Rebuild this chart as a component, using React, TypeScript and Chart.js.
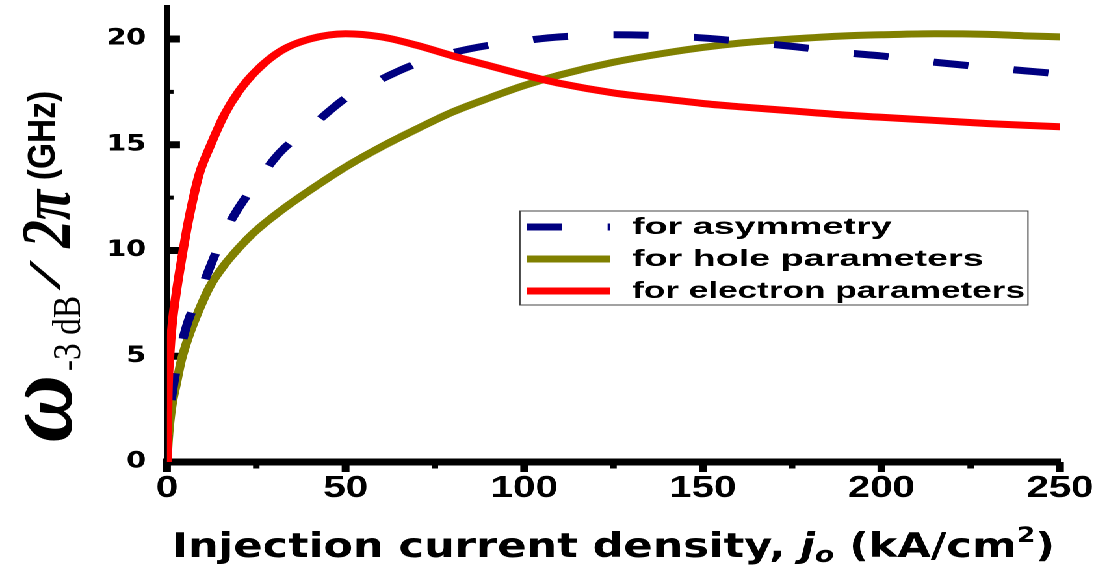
import React, { useEffect, useRef } from "react";
import { Chart, registerables } from "chart.js";

Chart.register(...registerables);

// The figure is drawn on a narrower canvas and widened horizontally with CSS.
const CANVAS_W = 843;
const CANVAS_H = 569;
const STRETCH = 1096 / CANVAS_W;

// Plot box in canvas units
const PLOT_LEFT = 167 / STRETCH;
const PLOT_RIGHT = 1060 / STRETCH;
const PLOT_BOTTOM = 462;
const Y_MAX = 21.5;
const PLOT_TOP = PLOT_BOTTOM - Y_MAX * 21.15;

// Injection current density j0 (kA/cm^2)
const currentDensity = [
  0, 0.3, 0.8, 1.5, 2.5, 4, 6, 9, 12, 16, 20, 25, 32, 40, 50, 60, 70, 80, 90,
  100, 110, 125, 140, 150, 160, 175, 190, 200, 215, 230, 240, 250,
];

// -3 dB modulation bandwidth (GHz)
const asymmetryBw = [
  0, 1.5, 2.4, 3.3, 4.3, 5.5, 6.7, 7.9, 9.2, 10.8, 12.0, 13.2, 14.7, 15.8,
  17.2, 18.1, 18.85, 19.35, 19.7, 19.92, 20.1, 20.2, 20.15, 20.05, 19.9, 19.65,
  19.35, 19.2, 18.9, 18.65, 18.5, 18.35,
];
const holeBw = [
  0, 0.9, 1.9, 2.8, 3.6, 4.8, 5.9, 7.2, 8.3, 9.3, 10.1, 10.95, 11.9, 12.85,
  13.95, 14.9, 15.75, 16.55, 17.2, 17.8, 18.3, 18.9, 19.35, 19.6, 19.8, 20.0,
  20.15, 20.2, 20.25, 20.22, 20.15, 20.1,
];
const electronBw = [
  0, 3.3, 5.1, 6.6, 7.9, 9.5, 11.4, 13.6, 14.9, 16.4, 17.5, 18.5, 19.45, 20.0,
  20.25, 20.1, 19.7, 19.2, 18.75, 18.3, 17.9, 17.45, 17.15, 16.95, 16.8, 16.6,
  16.4, 16.3, 16.15, 16.0, 15.92, 15.85,
];

const xTickValues = [0, 50, 100, 150, 200, 250];
const xMinorValues = [25, 75, 125, 175, 225];
const yTickValues = [0, 5, 10, 15, 20];
const yMinorValues = [2.5, 7.5, 12.5, 17.5];

const legendLabels = [
  "for asymmetry",
  "for hole parameters",
  "for electron parameters",
];

const NAVY = "#000080";
const OLIVE = "#808000";
const RED = "#ff0000";
const DASH = [27, 35];

const seriesColors = [NAVY, OLIVE, RED];

function toPoints(ys: number[]) {
  return currentDensity.map((x, i) => ({ x, y: ys[i] }));
}

// Inward ticks on the y axis, outward ticks on the x axis, plus minor ticks
const axisTicksPlugin = {
  id: "axisTicks",
  beforeDatasetsDraw(chart: any) {
    const { ctx, chartArea, scales } = chart;
    const x = scales.x;
    const y = scales.y;
    ctx.save();
    ctx.strokeStyle = "#000";
    ctx.lineCap = "butt";
    const seg = (x1: number, y1: number, x2: number, y2: number) => {
      ctx.beginPath();
      ctx.moveTo(x1, y1);
      ctx.lineTo(x2, y2);
      ctx.stroke();
    };
    ctx.lineWidth = 7;
    yTickValues.forEach((v) => {
      const py = y.getPixelForValue(v);
      seg(chartArea.left, py, chartArea.left + 10, py);
    });
    ctx.lineWidth = 4;
    yMinorValues.forEach((v) => {
      const py = y.getPixelForValue(v);
      seg(chartArea.left, py, chartArea.left + 5, py);
    });
    ctx.lineWidth = 6;
    xTickValues.forEach((v) => {
      const px = x.getPixelForValue(v);
      seg(px, chartArea.bottom, px, chartArea.bottom + 10);
    });
    ctx.lineWidth = 5;
    xMinorValues.forEach((v) => {
      const px = x.getPixelForValue(v);
      seg(px, chartArea.bottom, px, chartArea.bottom + 6.5);
    });
    ctx.restore();
  },
};

type Piece = { text: string; font: string; dy?: number };

function drawPieces(ctx: CanvasRenderingContext2D, pieces: Piece[]) {
  let cx = 0;
  pieces.forEach((p) => {
    ctx.font = p.font;
    ctx.fillText(p.text, cx, p.dy || 0);
    cx += ctx.measureText(p.text).width;
  });
}

function piecesWidth(ctx: CanvasRenderingContext2D, pieces: Piece[]) {
  let w = 0;
  pieces.forEach((p) => {
    ctx.font = p.font;
    w += ctx.measureText(p.text).width;
  });
  return w;
}

// One glyph run of the vertical title: its ink spans page rows top..bottom
// (reading upwards) and page columns left..right.
type TitleRun = {
  text: string;
  font: string;
  top: number;
  bottom: number;
  left: number;
  right: number;
};

const yTitleRuns: TitleRun[] = [
  { text: "\u03c9", font: "italic bold 60px 'Liberation Serif', 'DejaVu Serif', serif", top: 377, bottom: 441, left: 25, right: 73 },
  { text: "-3 dB", font: "30px 'Liberation Serif', 'DejaVu Serif', serif", top: 297, bottom: 370, left: 53, right: 80 },
  { text: "/", font: "44px 'Liberation Serif', 'DejaVu Serif', serif", top: 258, bottom: 291, left: 30, right: 60 },
  { text: "2\u03c0", font: "italic bold 52px 'Liberation Serif', 'DejaVu Serif', serif", top: 188, bottom: 249, left: 22, right: 71 },
  { text: "(GHz)", font: "bold 30px 'Liberation Sans', Arial, sans-serif", top: 92, bottom: 179, left: 26, right: 62 },
];

// Axis titles and the boxed legend
const annotationsPlugin = {
  id: "annotations",
  afterDraw(chart: any) {
    const ctx: CanvasRenderingContext2D = chart.ctx;
    ctx.save();
    ctx.fillStyle = "#000";
    ctx.textAlign = "left";
    ctx.textBaseline = "alphabetic";

    // x-axis title
    const xf = "'DejaVu Sans', sans-serif";
    const xTitle: Piece[] = [
      { text: "Injection current density, ", font: `bold 34px ${xf}` },
      { text: "j", font: `italic bold 34px ${xf}` },
      { text: "o", font: `italic bold 22px ${xf}`, dy: 5 },
      { text: " (kA/cm", font: `bold 34px ${xf}` },
      { text: "2", font: `bold 21px ${xf}`, dy: -15 },
      { text: ")", font: `bold 34px ${xf}` },
    ];
    const targetW = (1055 - 172) / STRETCH;
    const natW = piecesWidth(ctx, xTitle);
    ctx.save();
    ctx.translate(172 / STRETCH, 557);
    ctx.scale(targetW / natW, 1);
    drawPieces(ctx, xTitle);
    ctx.restore();

    // y-axis title, reading upwards; each run is fitted to its ink box
    yTitleRuns.forEach((run) => {
      ctx.save();
      ctx.rotate(-Math.PI / 2);
      ctx.font = run.font;
      const m = ctx.measureText(run.text);
      const inkW = m.actualBoundingBoxLeft + m.actualBoundingBoxRight;
      const inkH = m.actualBoundingBoxAscent + m.actualBoundingBoxDescent;
      const sx = (run.bottom - run.top) / inkW;
      const sy = (run.right - run.left) / STRETCH / inkH;
      ctx.translate(
        -run.bottom + m.actualBoundingBoxLeft * sx,
        run.left / STRETCH + m.actualBoundingBoxAscent * sy
      );
      ctx.scale(sx, sy);
      ctx.fillText(run.text, 0, 0);
      ctx.restore();
    });

    // legend
    const boxL = 520 / STRETCH;
    const boxR = 1028 / STRETCH;
    const boxT = 211;
    const boxB = 305;
    ctx.strokeStyle = "#444";
    ctx.lineWidth = 1;
    ctx.setLineDash([]);
    ctx.strokeRect(boxL, boxT, boxR - boxL, boxB - boxT);

    const rowY = [227, 259, 291];
    const sampleL = 527 / STRETCH;
    const sampleR = 610 / STRETCH;
    const textX = 632 / STRETCH;
    const textScale = 1.26;
    const maxTextW = (1025 - 632) / STRETCH;
    legendLabels.forEach((label, i) => {
      ctx.save();
      ctx.strokeStyle = seriesColors[i];
      ctx.lineWidth = 7;
      ctx.lineCap = "butt";
      ctx.setLineDash(i === 0 ? DASH : []);
      ctx.beginPath();
      ctx.moveTo(sampleL, rowY[i]);
      ctx.lineTo(sampleR, rowY[i]);
      ctx.stroke();
      ctx.restore();

      ctx.save();
      ctx.translate(textX, rowY[i] + 7);
      ctx.scale(textScale, 1);
      ctx.font = "bold 23px 'Liberation Sans', Arial, sans-serif";
      ctx.fillText(label, 0, 0, maxTextW / textScale);
      ctx.restore();
    });

    ctx.restore();
  },
};

export default function App() {
  const canvasRef = useRef<HTMLCanvasElement>(null);

  useEffect(() => {
    document.body.style.margin = "0";
    const canvas = canvasRef.current;
    if (!canvas) return;

    const chart = new Chart(canvas, {
      type: "line",
      data: {
        datasets: [
          {
            label: legendLabels[0],
            data: toPoints(asymmetryBw),
            borderColor: NAVY,
            backgroundColor: NAVY,
            borderWidth: 7,
            borderDash: DASH,
            order: 1,
          },
          {
            label: legendLabels[1],
            data: toPoints(holeBw),
            borderColor: OLIVE,
            backgroundColor: OLIVE,
            borderWidth: 7,
            order: 2,
          },
          {
            label: legendLabels[2],
            data: toPoints(electronBw),
            borderColor: RED,
            backgroundColor: RED,
            borderWidth: 7,
            order: 0,
          },
        ],
      },
      options: {
        animation: false,
        responsive: true,
        maintainAspectRatio: false,
        devicePixelRatio: 2,
        layout: {
          padding: {
            top: PLOT_TOP,
            right: CANVAS_W - PLOT_RIGHT,
            left: 0,
            bottom: 0,
          },
        },
        elements: {
          point: { radius: 0, hoverRadius: 0 },
          line: {
            cubicInterpolationMode: "monotone",
            borderCapStyle: "butt",
            fill: false,
          },
        },
        plugins: {
          legend: { display: false },
          tooltip: { enabled: false },
        },
        scales: {
          x: {
            type: "linear",
            min: 0,
            max: 250,
            grid: { display: true, drawOnChartArea: false, drawTicks: false },
            border: { display: true, width: 7, color: "#000" },
            ticks: {
              color: "#000",
              padding: 8,
              maxRotation: 0,
              autoSkip: false,
              font: {
                family: "'Liberation Sans Narrow', 'Liberation Sans', sans-serif",
                weight: "bold",
                size: 31,
              },
            },
            afterBuildTicks: (scale: any) => {
              scale.ticks = xTickValues.map((value) => ({ value }));
            },
            afterFit: (scale: any) => {
              scale.height = CANVAS_H - PLOT_BOTTOM;
              scale.paddingLeft = 0;
              scale.paddingRight = 0;
              scale.paddingTop = 0;
              scale.paddingBottom = 0;
            },
          },
          y: {
            type: "linear",
            min: 0,
            max: Y_MAX,
            grid: { display: true, drawOnChartArea: false, drawTicks: false },
            border: { display: true, width: 5, color: "#000" },
            ticks: {
              color: "#000",
              padding: 16,
              autoSkip: false,
              font: {
                family: "'DejaVu Sans', sans-serif",
                weight: "bold",
                size: 22,
              },
            },
            afterBuildTicks: (scale: any) => {
              scale.ticks = yTickValues.map((value) => ({ value }));
            },
            afterFit: (scale: any) => {
              scale.width = PLOT_LEFT;
              scale.paddingLeft = 0;
              scale.paddingRight = 0;
              scale.paddingTop = 0;
              scale.paddingBottom = 0;
            },
          },
        },
      },
      plugins: [axisTicksPlugin, annotationsPlugin],
    });

    return () => chart.destroy();
  }, []);

  return (
    <div
      style={{
        width: CANVAS_W,
        height: CANVAS_H,
        transform: `scaleX(${STRETCH})`,
        transformOrigin: "0 0",
        background: "#fff",
      }}
    >
      <canvas ref={canvasRef} />
    </div>
  );
}
